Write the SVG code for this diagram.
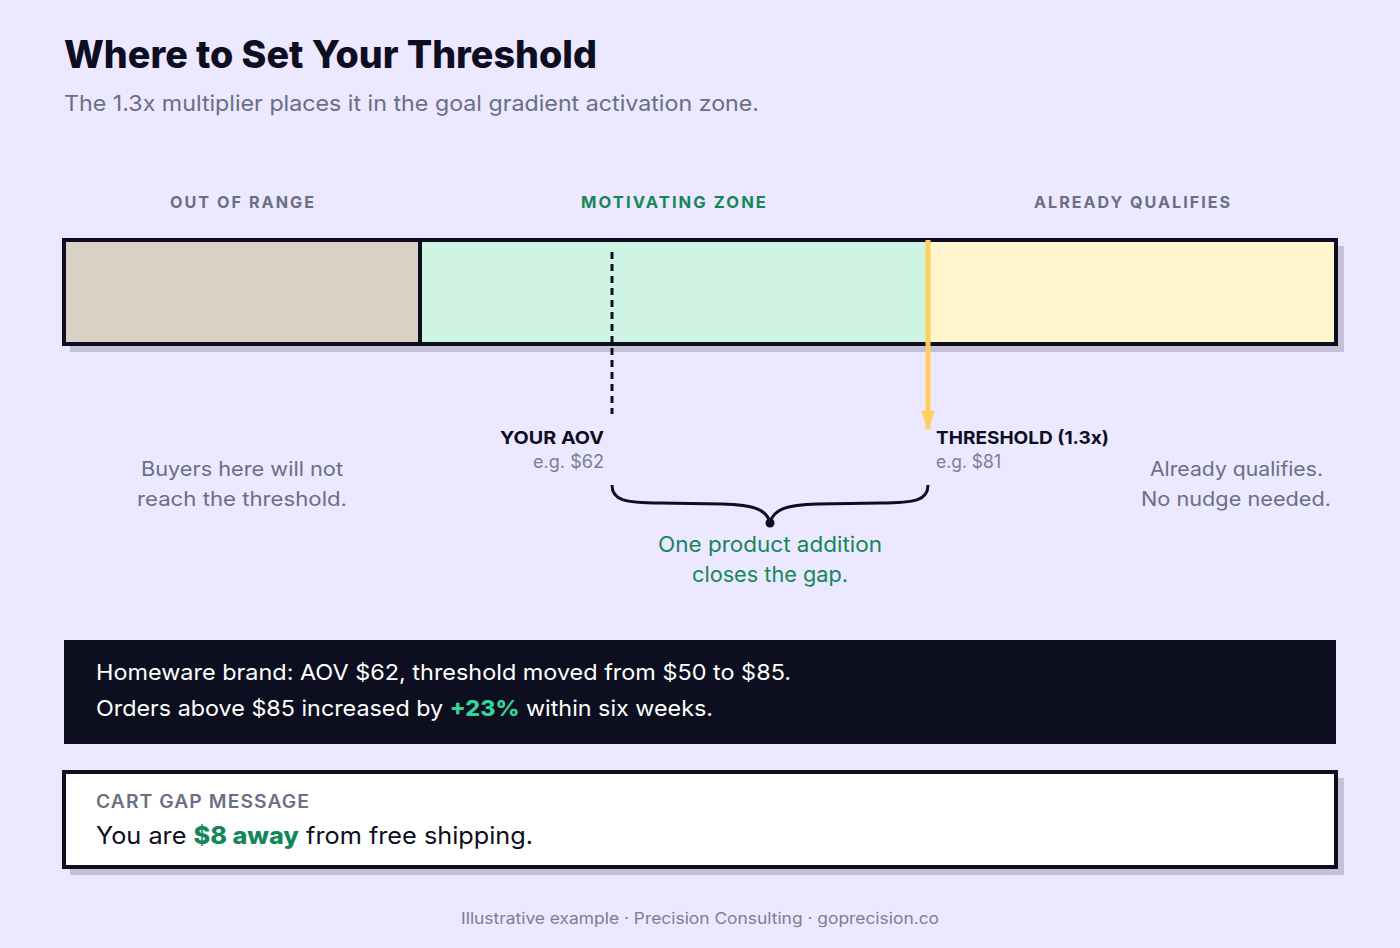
<svg xmlns="http://www.w3.org/2000/svg" width="1400" height="948" viewBox="0 0 1400 948">
<style>
text{font-family:Inter,"Noto Sans",sans-serif}
.title{font-size:38px;font-weight:800;fill:#0d0e1f}
.sub{font-size:22px;fill:#6b6f82}
.zone{font-size:16px;font-weight:700;letter-spacing:2px;fill:#6b6f82}
.zg{fill:#15865a}
.mk{font-size:18px;font-weight:700;fill:#0d0e1f}
.eg{font-size:18px;fill:#7b7f90}
.side{font-size:20px;fill:#6b6f82}
.gap{font-size:21px;fill:#15865a}
.dark{font-size:22px;fill:#ffffff}
.cap{font-size:18px;font-weight:600;letter-spacing:1px;fill:#6b6f82}
.msg{font-size:24px;fill:#0d0e1f}
.foot{font-size:16px;fill:#7b7f90}
.shadow{fill:#c5c2d8}
</style>
<defs>
<marker id="ah" viewBox="0 0 18 14" refX="18" refY="7" markerWidth="18" markerHeight="14" markerUnits="userSpaceOnUse" orient="auto">
<path d="M0,0 L18,7 L0,14 Z" fill="#ffcf5c"/>
</marker>
</defs>
<rect width="1400" height="948" fill="#ece8ff"/>
<g id="header">
<text class="title" x="64" y="68" textLength="533" lengthAdjust="spacingAndGlyphs">Where to Set Your Threshold</text>
<text class="sub" x="64" y="111" textLength="695" lengthAdjust="spacingAndGlyphs">The 1.3x multiplier places it in the goal gradient activation zone.</text>
</g>
<g id="zone-labels">
<text class="zone" x="170" y="208" textLength="146" lengthAdjust="spacingAndGlyphs">OUT OF RANGE</text>
<text class="zone zg" x="581" y="208" textLength="187" lengthAdjust="spacingAndGlyphs">MOTIVATING ZONE</text>
<text class="zone" x="1034" y="208" textLength="198" lengthAdjust="spacingAndGlyphs">ALREADY QUALIFIES</text>
</g>
<g id="bar">
<rect class="shadow" x="70" y="246" width="1274" height="106"/>
<rect x="64" y="240" width="356" height="104" fill="#dad1c7"/>
<rect x="420" y="240" width="508" height="104" fill="#d0f4e4"/>
<rect x="928" y="240" width="408" height="104" fill="#fff6d0"/>
<line x1="420" y1="240" x2="420" y2="344" stroke="#0d0e1f" stroke-width="4"/>
<rect x="64" y="240" width="1272" height="104" fill="none" stroke="#0d0e1f" stroke-width="4"/>
</g>
<g id="connectors">
<line x1="612" y1="252" x2="612" y2="414" stroke="#0d0e1f" stroke-width="3" stroke-dasharray="7 5"/>
<line x1="928" y1="240" x2="928" y2="429" stroke="#ffcf5c" stroke-width="5" marker-end="url(#ah)"/>
<path d="M612,485 C612,500 624,503 660,503 L722,504 C756,505 766,510 770,522 C774,510 784,505 818,504 L880,503 C916,503 928,500 928,485" fill="none" stroke="#0d0e1f" stroke-width="3"/>
<circle cx="770" cy="523" r="4.5" fill="#0d0e1f"/>
</g>
<g id="aov">
<text class="mk" x="604" y="444" text-anchor="end" textLength="104" lengthAdjust="spacingAndGlyphs">YOUR AOV</text>
<text class="eg" x="604" y="468" text-anchor="end" textLength="71" lengthAdjust="spacingAndGlyphs">e.g. $62</text>
</g>
<g id="threshold">
<text class="mk" x="936" y="444" textLength="173" lengthAdjust="spacingAndGlyphs">THRESHOLD (1.3x)</text>
<text class="eg" x="936" y="468" textLength="65" lengthAdjust="spacingAndGlyphs">e.g. $81</text>
</g>
<g id="out-note">
<text class="side" x="141" y="476" textLength="202" lengthAdjust="spacingAndGlyphs">Buyers here will not</text>
<text class="side" x="137" y="506" textLength="210" lengthAdjust="spacingAndGlyphs">reach the threshold.</text>
</g>
<g id="qual-note">
<text class="side" x="1150" y="476" textLength="173" lengthAdjust="spacingAndGlyphs">Already qualifies.</text>
<text class="side" x="1141" y="506" textLength="190" lengthAdjust="spacingAndGlyphs">No nudge needed.</text>
</g>
<g id="gap-note">
<text class="gap" x="658" y="552" textLength="224" lengthAdjust="spacingAndGlyphs">One product addition</text>
<text class="gap" x="692" y="582" textLength="156" lengthAdjust="spacingAndGlyphs">closes the gap.</text>
</g>
<g id="case">
<rect x="64" y="640" width="1272" height="104" fill="#0d0e1f"/>
<text class="dark" x="96" y="680" textLength="695" lengthAdjust="spacingAndGlyphs">Homeware brand: AOV $62, threshold moved from $50 to $85.</text>
<text class="dark" x="96" y="716" textLength="617" lengthAdjust="spacingAndGlyphs">Orders above $85 increased by <tspan font-weight="800" fill="#34d399">+23%</tspan> within six weeks.</text>
</g>
<g id="cart">
<rect class="shadow" x="70" y="778" width="1274" height="97"/>
<rect x="64" y="772" width="1272" height="95" fill="#ffffff" stroke="#0d0e1f" stroke-width="4"/>
<text class="cap" x="96" y="808" textLength="214" lengthAdjust="spacingAndGlyphs">CART GAP MESSAGE</text>
<text class="msg" x="96" y="844" textLength="437" lengthAdjust="spacingAndGlyphs">You are <tspan font-weight="800" fill="#15865a">$8 away</tspan> from free shipping.</text>
</g>
<g id="footer">
<text class="foot" x="461" y="924" textLength="478" lengthAdjust="spacingAndGlyphs">Illustrative example · Precision Consulting · goprecision.co</text>
</g>
</svg>
